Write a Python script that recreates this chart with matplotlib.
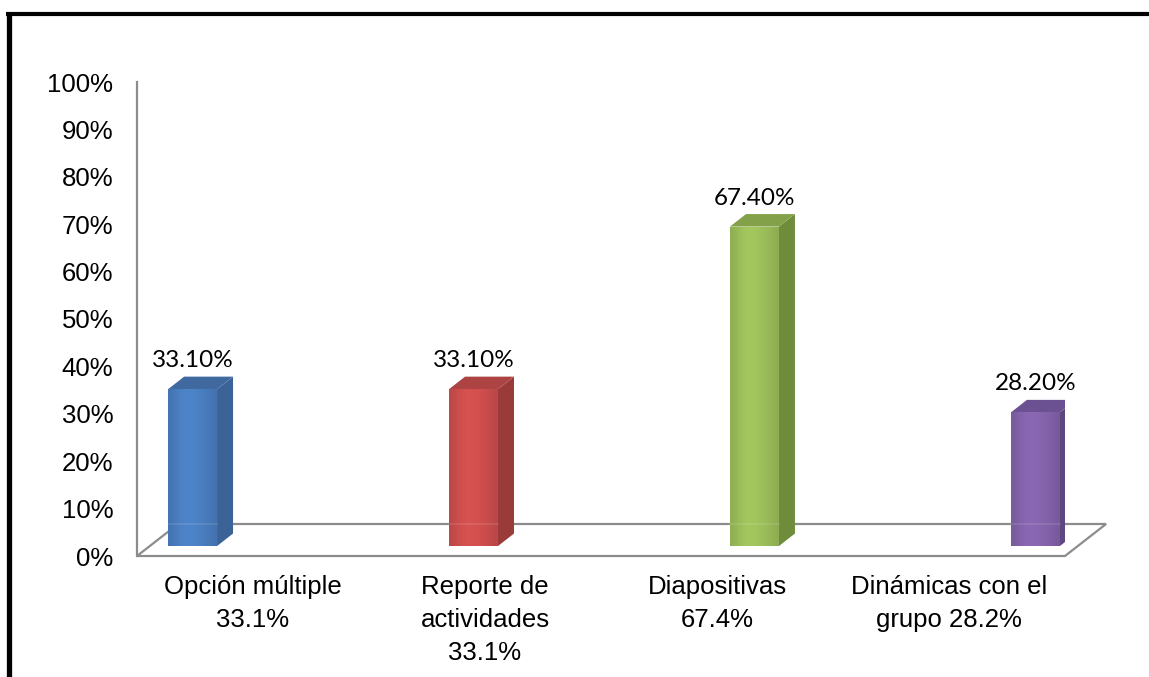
import numpy as np
import matplotlib.pyplot as plt
from matplotlib.patches import Polygon, Rectangle
from matplotlib.lines import Line2D
from matplotlib.colors import to_rgb

# datos
categorias = ['Opción múltiple\n33.1%', 'Reporte de\nactividades\n33.1%',
              'Diapositivas\n67.4%', 'Dinámicas con el\ngrupo 28.2%']
valores = [33.1, 33.1, 67.4, 28.2]
etiquetas = ['33.10%', '33.10%', '67.40%', '28.20%']
yticks = list(range(0, 101, 10))

# colores: frente, lado, tapa
frente = ['#4a7ec0', '#cd4e4d', '#9cbe5a', '#8463ab']
lado = ['#3c6397', '#9a3b3a', '#6f8c3a', '#5d4781']
tapa = ['#40699f', '#ad4443', '#83a149', '#6c5192']

W, H = 1149, 677
fig = plt.figure(figsize=(W / 100, H / 100), dpi=100)
ax = fig.add_axes([137 / W, (H - 556) / H, 928 / W, 474 / H])
ax.set_xlim(0, 4)
ax.set_ylim(0, 100)
for s in ax.spines.values():
    s.set_visible(False)

# piso en perspectiva
fdx, fdy = 0.177, 6.75
gris = '#8c8c8c'
piso = Polygon([(0, 0), (4, 0), (4 + fdx, fdy), (fdx, fdy)], closed=True,
               facecolor='white', edgecolor=gris, lw=1.6, zorder=1, clip_on=False)
ax.add_patch(piso)
ax.plot([0, 0], [0, 100], color=gris, lw=1.6, zorder=1, clip_on=False)

# barras 3D
ancho = 0.211
bdx, bdy = 0.069, 2.64
base = 2.1
x0, paso = 0.134, 1.211
perfil = np.array([0.92, 0.98, 1.03, 1.05, 1.04, 1.02, 0.99, 0.96, 0.91])
for i, v in enumerate(valores):
    x = x0 + paso * i
    top = base + v
    # lado
    ax.add_patch(Polygon([(x + ancho, base), (x + ancho + bdx, base + bdy),
                          (x + ancho + bdx, top + bdy), (x + ancho, top)],
                         closed=True, facecolor=lado[i], edgecolor='none', zorder=3))
    # tapa
    ax.add_patch(Polygon([(x, top), (x + ancho, top), (x + ancho + bdx, top + bdy),
                          (x + bdx, top + bdy)],
                         closed=True, facecolor=tapa[i], edgecolor='none', zorder=3))
    # frente con degradado horizontal
    rect = Rectangle((x, base), ancho, v, facecolor=frente[i], edgecolor='none', zorder=3)
    ax.add_patch(rect)
    c = np.array(to_rgb(frente[i]))
    grad = np.clip(perfil[:, None] * c[None, :], 0, 1)[None, :, :]
    im = ax.imshow(grad, extent=(x, x + ancho, base, top), aspect='auto',
                   interpolation='bicubic', zorder=4)
    im.set_clip_path(rect)
    # línea trasera del piso vista a través de la barra
    ax.plot([x, x + ancho], [fdy, fdy], color='white', alpha=0.12, lw=1.2, zorder=5)
    ax.text(x + ancho / 2, top + 6.0, etiquetas[i], ha='center', va='center',
            fontsize=17.5, family='Lato', color='black', zorder=6)

ax.set_aspect('auto')
ax.set_xlim(0, 4)
ax.set_ylim(0, 100)

ax.set_yticks(yticks)
ax.set_yticklabels([f'{t}%' for t in yticks], fontsize=18.5, family='Liberation Sans')
ax.set_xticks([0.5, 1.5, 2.5, 3.5])
ax.set_xticklabels(categorias, fontsize=18.5, family='Liberation Sans', linespacing=1.47)
ax.tick_params(axis='y', length=0, pad=17)
ax.tick_params(axis='x', length=0, pad=14)

# marco negro
fig.add_artist(Line2D([8.5 / W, 8.5 / W], [0, 1 - 12 / H], color='black', lw=3.8,
                      solid_capstyle='butt'))
fig.add_artist(Line2D([6 / W, 1], [1 - 13.5 / H, 1 - 13.5 / H], color='black', lw=3.0,
                      solid_capstyle='butt'))

fig.savefig('out.png', dpi=100)
